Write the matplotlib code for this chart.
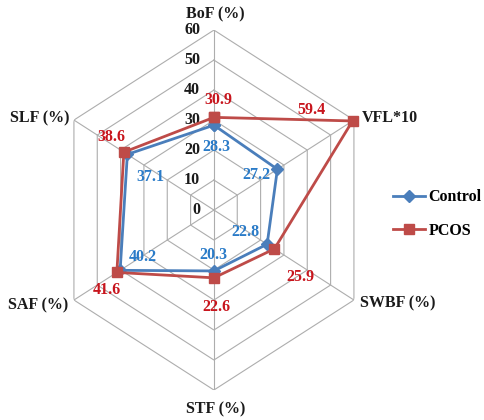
import numpy as np
import matplotlib
matplotlib.use("Agg")
import matplotlib.pyplot as plt

# Categories (clockwise from top) and the two series
categories = ["BoF (%)", "VFL*10", "SWBF (%)", "STF (%)", "SAF (%)", "SLF (%)"]
control = [28.3, 27.2, 22.8, 20.3, 40.2, 37.1]
pcos = [30.9, 59.4, 25.9, 22.6, 41.6, 38.6]
rings = [0, 10, 20, 30, 40, 50, 60]

# label offsets in pixels (dx, dy), y up
control_offsets = [(2, -22), (-21, -6), (-22, 12), (-1, 16), (23, 13), (23, -23)]
pcos_offsets = [(4, 17), (-41, 11), (26, -28), (3, -29), (-10, -18), (-12, 15)]
cat_offsets = [(1, 16, "center"), (8, 2, "left"), (6, -3, "left"),
               (2, -19, "center"), (-6, -5, "right"), (-4, 2, "right")]

BLUE_LINE = "#4A7EBB"
RED_LINE = "#BE4B48"
BLUE_TXT = "#2A7BC8"
RED_TXT = "#C8151D"
GRID = "#ADADAD"
FONT = "Liberation Serif"

px = 0.72  # points per pixel at dpi=100

fig = plt.figure(figsize=(4.84, 4.2), dpi=100)
ax = fig.add_axes([0.108, 0.0714, 0.668, 0.857], projection="polar")
ax.set_aspect("auto")
ax.set_theta_zero_location("N")
ax.set_theta_direction(-1)
ax.set_ylim(0, 60)
ax.grid(False)
ax.set_xticks([])
ax.set_yticks([])
ax.spines["polar"].set_visible(False)
ax.patch.set_visible(False)

n = len(categories)
angles = np.linspace(0, 2 * np.pi, n, endpoint=False)
closed = np.append(angles, angles[0])

# hexagonal grid rings and spokes
for r in rings[1:]:
    ax.plot(closed, [r] * (n + 1), color=GRID, lw=0.8, zorder=1)
for a in angles:
    ax.plot([a, a], [0, rings[-1]], color=GRID, lw=0.8, zorder=1)

# radial value labels along the top spoke
for r in rings:
    ax.annotate(str(r), xy=(0, r), xytext=(-10, 0), textcoords="offset points",
                ha="right", va="center", fontsize=11.5, fontweight="bold",
                family=FONT, color="#1a1a1a")

# category labels
for a, lab, (dx, dy, ha) in zip(angles, categories, cat_offsets):
    ax.annotate(lab, xy=(a, rings[-1]), xytext=(dx * px, dy * px),
                textcoords="offset points", ha=ha, va="center",
                fontsize=11.5, fontweight="bold", family=FONT, color="#1a1a1a")

ax.plot(closed, control + control[:1], color=BLUE_LINE, lw=2, marker="D",
        markersize=6, label="Control", zorder=3, clip_on=False)
ax.plot(closed, pcos + pcos[:1], color=RED_LINE, lw=2, marker="s",
        markersize=7.5, label="PCOS", zorder=4, clip_on=False)

for a, v, (dx, dy) in zip(angles, control, control_offsets):
    ax.annotate(f"{v:.1f}", xy=(a, v), xytext=(dx * px, dy * px),
                textcoords="offset points", ha="center", va="center",
                fontsize=11.5, fontweight="bold", family=FONT, color=BLUE_TXT)
for a, v, (dx, dy) in zip(angles, pcos, pcos_offsets):
    ax.annotate(f"{v:.1f}", xy=(a, v), xytext=(dx * px, dy * px),
                textcoords="offset points", ha="center", va="center",
                fontsize=11.5, fontweight="bold", family=FONT, color=RED_TXT)

fig.legend(loc="center left", bbox_to_anchor=(0.795, 0.49), frameon=False,
           handlelength=2.0, handletextpad=0.25, labelspacing=1.1,
           borderpad=0, prop={"family": FONT, "weight": "bold", "size": 11.5})

fig.savefig("out.png", dpi=100)
